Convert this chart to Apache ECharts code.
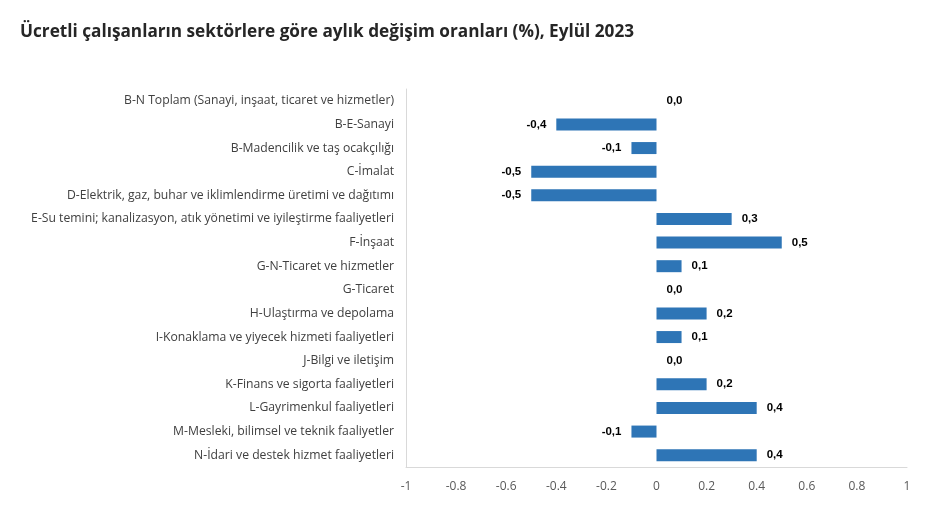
<!DOCTYPE html>
<html><head><meta charset="utf-8">
<script src="https://cdn.jsdelivr.net/npm/echarts@6/dist/echarts.min.js"></script>
<style>html,body{margin:0;padding:0;background:#fff}#c{width:931px;height:511px}</style>
</head><body><div id="c"></div>
<script>
const categories = [
  "B-N Toplam (Sanayi, inşaat, ticaret ve hizmetler)",
  "B-E-Sanayi",
  "B-Madencilik ve taş ocakçılığı",
  "C-İmalat",
  "D-Elektrik, gaz, buhar ve iklimlendirme üretimi ve dağıtımı",
  "E-Su temini; kanalizasyon, atık yönetimi ve iyileştirme faaliyetleri",
  "F-İnşaat",
  "G-N-Ticaret ve hizmetler",
  "G-Ticaret",
  "H-Ulaştırma ve depolama",
  "I-Konaklama ve yiyecek hizmeti faaliyetleri",
  "J-Bilgi ve iletişim",
  "K-Finans ve sigorta faaliyetleri",
  "L-Gayrimenkul faaliyetleri",
  "M-Mesleki, bilimsel ve teknik faaliyetler",
  "N-İdari ve destek hizmet faaliyetleri"
];
const values = [0.0, -0.4, -0.1, -0.5, -0.5, 0.3, 0.5, 0.1, 0.0, 0.2, 0.1, 0.0, 0.2, 0.4, -0.1, 0.4];
const xTicks = [-1, -0.8, -0.6, -0.4, -0.2, 0, 0.2, 0.4, 0.6, 0.8, 1];

const font = "'Open Sans', 'Noto Sans', sans-serif";
const chart = echarts.init(document.getElementById('c'), null, {renderer: 'canvas'});
chart.setOption({
  animation: false,
  title: {
    text: "Ücretli çalışanların sektörlere göre aylık değişim oranları (%), Eylül 2023",
    left: 15, top: 19,
    textStyle: {fontFamily: font, fontSize: 17.2, fontWeight: 'bold', color: '#262626'}
  },
  grid: {left: 406, right: 24, top: 89, bottom: 44, containLabel: false},
  xAxis: {
    type: 'value', min: -1, max: 1, interval: 0.2,
    axisLine: {show: true, lineStyle: {color: '#d9d9d9'}},
    axisTick: {show: false},
    splitLine: {show: false},
    axisLabel: {
      fontFamily: font, fontSize: 12, color: '#595959', margin: 14,
      formatter: v => {
        const r = Math.round(v * 10) / 10;
        return xTicks.includes(r) ? String(r) : '';
      }
    }
  },
  yAxis: {
    type: 'category', data: categories, inverse: true,
    axisLine: {show: true, onZero: false, lineStyle: {color: '#d9d9d9'}},
    axisTick: {show: false},
    axisLabel: {fontFamily: font, fontSize: 12.2, color: '#404040', margin: 12}
  },
  series: [{
    type: 'bar', barWidth: 12,
    itemStyle: {color: '#2e75b6'},
    data: values.map(v => ({
      value: v,
      label: {position: v < 0 ? 'left' : 'right'}
    })),
    label: {
      show: true, distance: 10,
      fontFamily: 'Liberation Sans, Arial, sans-serif', fontSize: 11.5, fontWeight: 'bold', color: '#000',
      formatter: p => p.value.toFixed(1).replace('.', ',')
    }
  }]
});
</script></body></html>
